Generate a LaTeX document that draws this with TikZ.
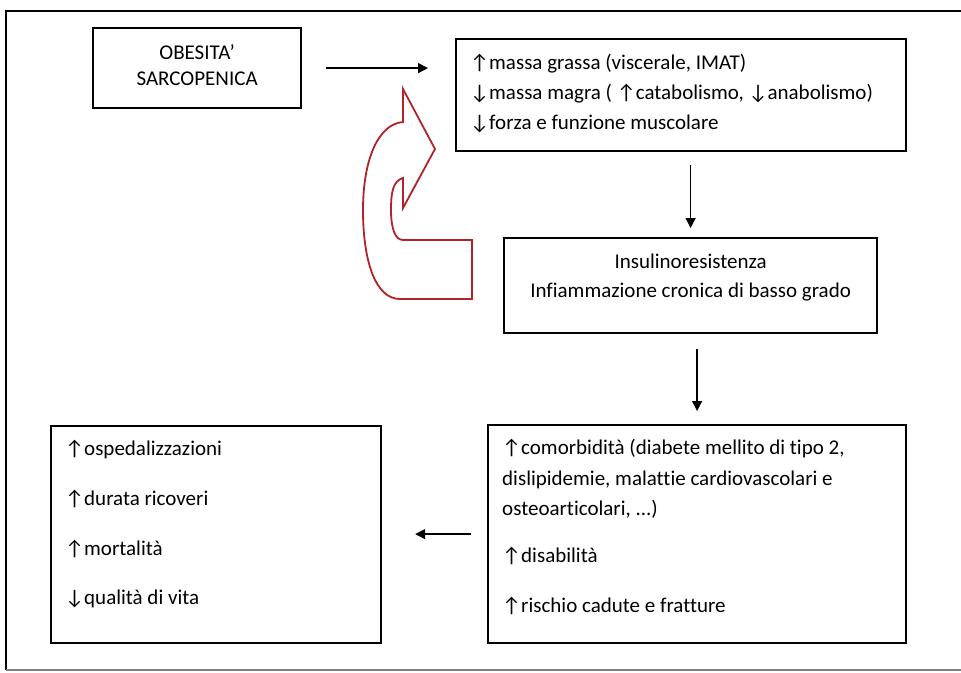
\documentclass[tikz,border=0pt]{standalone}
\usepackage{fontspec}
\setmainfont[Ligatures=NoCommon]{Carlito}
\usetikzlibrary{positioning, arrows.meta, calc}
\definecolor{rossoscuro}{RGB}{178,34,40}

\begin{document}
\begin{tikzpicture}[x=1pt, y=-1pt,
    every node/.style={font=\fontsize{21}{24}\selectfont},
    riquadro/.style={draw, line width=2.2pt, anchor=north west, inner sep=0pt},
    riga/.style={anchor=base west, inner sep=0pt},
    rigac/.style={anchor=base, inner sep=0pt},
    freccia/.style={-{Triangle[length=10pt, width=10pt]}, line width=1.3pt}]
    \useasboundingbox (0,0) rectangle (961,672);
    % Cornice esterna
    \draw[line width=2.8pt] (6,670) -- (6,11) -- (961,11);
    \draw[line width=1.5pt, gray] (6,670) -- (961,670);
    % Riquadri
    \node[riquadro, minimum width=208pt, minimum height=80pt] (obesita) at (92,27) {};
    \node[riquadro, minimum width=450pt, minimum height=112pt] (masse) at (455,38) {};
    \node[riquadro, minimum width=373pt, minimum height=95pt] (insulina) at (503,237) {};
    \node[riquadro, minimum width=418pt, minimum height=218pt] (comorb) at (487,424) {};
    \node[riquadro, minimum width=330pt, minimum height=217pt] (esiti) at (50,425) {};
    % Testi centrati
    \node[rigac] (obesita-1) at ($(obesita.north)+(0,32)$) {OBESITA’};
    \node[rigac] (obesita-2) at ($(obesita.north)+(0,58)$) {SARCOPENICA};
    \node[rigac] (insulina-1) at ($(insulina.north)+(0,31)$) {Insulinoresistenza};
    \node[rigac] (insulina-2) at ($(insulina.north)+(0,60)$) {Infiammazione cronica di basso grado};
    % Elenchi
    \foreach \i/\dy/\testo in {
      1/31/{↑massa grassa (viscerale, IMAT)},
      2/61/{↓massa magra ( ↑catabolismo, ↓anabolismo)},
      3/91/{↓forza e funzione muscolare}
    }
    {
      \node[riga] (masse-\i) at ($(masse.north west)+(15,\dy)$) {\testo};
    }
    \foreach \i/\dy/\testo in {
      1/30/{↑comorbidità (diabete mellito di tipo 2,},
      2/61/{dislipidemie, malattie cardiovascolari e},
      3/91/{osteoarticolari, ...)},
      4/138/{↑disabilità},
      5/188/{↑rischio cadute e fratture}
    }
    {
      \node[riga] (comorb-\i) at ($(comorb.north west)+(15,\dy)$) {\testo};
    }
    \foreach \i/\dy/\testo in {
      1/30/{↑ospedalizzazioni},
      2/80/{↑durata ricoveri},
      3/130/{↑mortalità},
      4/179/{↓qualità di vita}
    }
    {
      \node[riga] (esiti-\i) at ($(esiti.north west)+(15,\dy)$) {\testo};
    }
    % Frecce
    \draw[freccia, shorten <=24pt, shorten >=27pt] (obesita.east) -- (obesita.east -| masse.west);
    \draw[freccia, shorten <=13pt, shorten >=9pt] (masse.south -| insulina.north) -- (insulina.north);
    \draw[freccia, shorten <=15pt, shorten >=13pt] (insulina.south -| comorb.north) -- (comorb.north);
    \draw[freccia, shorten <=16pt, shorten >=33pt] (comorb.west) -- (comorb.west -| esiti.east);
    % Freccia curva (circolo vizioso)
    \draw[rossoscuro, line width=1.8pt, line join=miter]
      (403,122) -- (403,89) -- (435,149) -- (403,208) -- (403,178)
      .. controls (393,181) and (391,192) .. (391,210)
      .. controls (391,228) and (395,240) .. (403,240)
      -- (472,240) -- (472,299) -- (400,299)
      .. controls (375,299) and (363,260) .. (363,210)
      .. controls (363,160) and (378,124) .. (403,122) -- cycle;
\end{tikzpicture}
\end{document}
